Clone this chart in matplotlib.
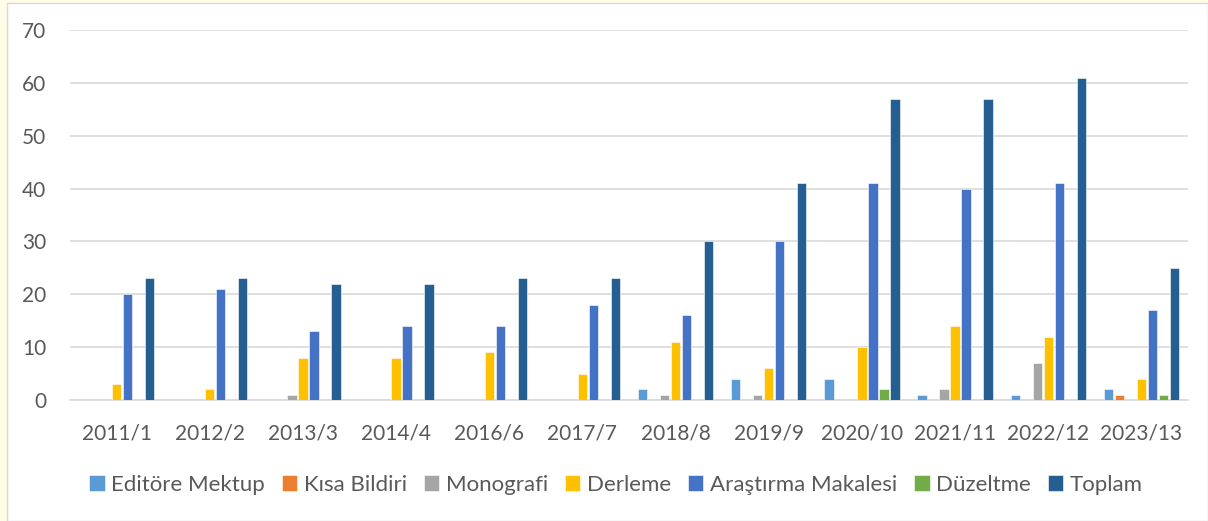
import numpy as np
import matplotlib.pyplot as plt
from matplotlib.patches import Rectangle

categories = ["2011/1", "2012/2", "2013/3", "2014/4", "2016/6", "2017/7",
              "2018/8", "2019/9", "2020/10", "2021/11", "2022/12", "2023/13"]
editore_mektup = [0, 0, 0, 0, 0, 0, 2, 4, 4, 1, 1, 2]
kisa_bildiri = [0, 0, 0, 0, 0, 0, 0, 0, 0, 0, 0, 1]
monografi = [0, 0, 1, 0, 0, 0, 1, 1, 0, 2, 7, 0]
derleme = [3, 2, 8, 8, 9, 5, 11, 6, 10, 14, 12, 4]
arastirma = [20, 21, 13, 14, 14, 18, 16, 30, 41, 40, 41, 17]
duzeltme = [0, 0, 0, 0, 0, 0, 0, 0, 2, 0, 0, 1]
toplam = [23, 23, 22, 22, 23, 23, 30, 41, 57, 57, 61, 25]

series = [
    ("Editöre Mektup", editore_mektup, "#5B9BD5"),
    ("Kısa Bildiri", kisa_bildiri, "#ED7D31"),
    ("Monografi", monografi, "#A5A5A5"),
    ("Derleme", derleme, "#FFC000"),
    ("Araştırma Makalesi", arastirma, "#4472C4"),
    ("Düzeltme", duzeltme, "#70AD47"),
    ("Toplam", toplam, "#255E91"),
]

plt.rcParams['font.family'] = ['Lato', 'DejaVu Sans']
text_color = "#595959"
fs = 15

fig = plt.figure(figsize=(12.08, 5.21), dpi=100)
fig.patch.set_facecolor("#FFFDE8")
# white card with a thin grey edge, like the pasted chart
fig.add_artist(Rectangle((7 / 1208, 0), 1 - 7 / 1208, 1 - 3 / 521,
                         transform=fig.transFigure, facecolor="white",
                         edgecolor="#D9D9D9", linewidth=1, zorder=0))

ax = fig.add_axes([70 / 1208, 1 - 400 / 521, 1118 / 1208, 370 / 521])
ax.set_facecolor("none")

x = np.arange(len(categories))
step = 0.118
width = 0.1
for i, (name, vals, color) in enumerate(series):
    ax.bar(x + (i - 3) * step, vals, width, color=color, label=name,
           edgecolor="white", linewidth=0.4, zorder=3)

ax.set_xlim(-0.5, len(categories) - 0.5)
ax.set_ylim(0, 70)
ax.set_yticks(range(0, 71, 10))
ax.set_xticks(x)
ax.set_xticklabels(categories)
ax.grid(axis="y", color="#D9D9D9", linewidth=1.2, zorder=0)
for s in ["top", "right", "left"]:
    ax.spines[s].set_visible(False)
ax.spines["bottom"].set_color("#D9D9D9")
ax.spines["bottom"].set_linewidth(1.2)
ax.tick_params(axis="both", length=0, colors=text_color, labelsize=fs)
ax.tick_params(axis="x", pad=17)
ax.tick_params(axis="y", pad=17)

leg = fig.legend(loc="center", bbox_to_anchor=(616 / 1208, 1 - 485 / 521),
                 ncol=7, frameon=False, fontsize=16, handlelength=0.7,
                 handleheight=0.7, handletextpad=0.3, columnspacing=0.75)
for t in leg.get_texts():
    t.set_color(text_color)

fig.savefig("out.png", dpi=100)
